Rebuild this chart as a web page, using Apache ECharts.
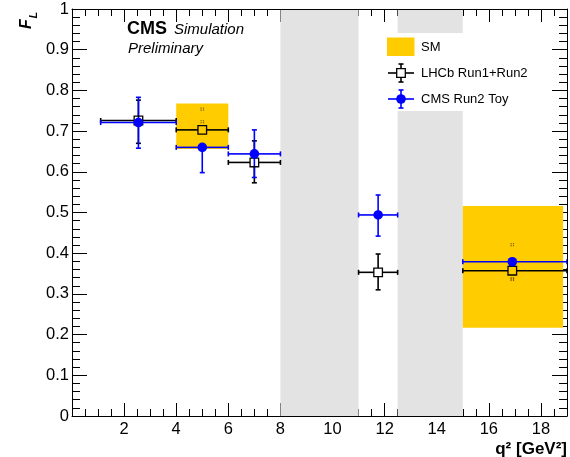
<!DOCTYPE html>
<html>
<head>
<meta charset="utf-8">
<script src="https://cdn.jsdelivr.net/npm/echarts@6/dist/echarts.min.js"></script>
<style>
  html, body { margin: 0; padding: 0; background: #fff; }
  #chart { width: 570px; height: 457px; }
</style>
</head>
<body>
<div id="chart"></div>
<script>
// q^2 bins (GeV^2) and the q^2 position of each point
const binLow  = [1.1, 4, 6, 11, 15];
const binHigh = [4, 6, 8, 12.5, 19];
const binX    = [2.55, 5, 7, 11.75, 16.9];

// LHCb Run1+Run2 measurement of F_L
const lhcbFL      = [0.726, 0.703, 0.623, 0.353, 0.357];
const lhcbErrUp   = [0.050, 0.051, 0.053, 0.045, 0.021];
const lhcbErrDown = [0.056, 0.043, 0.050, 0.043, 0.021];

// CMS Run2 toy
const cmsFL      = [0.721, 0.660, 0.644, 0.494, 0.379];
const cmsErrUp   = [0.062, 0.063, 0.059, 0.049, 0.042];
const cmsErrDown = [0.063, 0.062, 0.058, 0.052, 0.042];

// SM prediction boxes
const smLow  = [4, 15];
const smHigh = [6, 18.85];
const smMin  = [0.656, 0.217];
const smMax  = [0.768, 0.516];

// charmonium veto regions
const vetoLow  = [8, 12.5];
const vetoHigh = [11, 15];

// axis ranges and tick steps
const xRange = [0, 19];
const yRange = [0, 1];
const xMajorStep = 2, xMinorStep = 0.5;
const yMajorStep = 0.1, yMinorSplit = 5;

const FONT = '"Liberation Sans", Arial, Helvetica, sans-serif';
const BLUE = '#0000ff';
const BLACK = '#000000';
const YELLOW = '#ffcc00';
const VETO_GREY = '#e3e3e3';
const CAP = 2.5;
const LW = 1.6;

function seg(x1, y1, x2, y2, color, w, z) {
  const el = { type: 'line', shape: { x1, y1, x2, y2 }, style: { stroke: color, lineWidth: w } };
  if (z != null) el.z = z;
  return el;
}

function renderRegion(fill, yLoDim, yHiDim) {
  return function (params, api) {
    const yLo = yLoDim == null ? yRange[0] : api.value(yLoDim);
    const yHi = yHiDim == null ? yRange[1] : api.value(yHiDim);
    const a = api.coord([api.value(0), yHi]);
    const b = api.coord([api.value(1), yLo]);
    return {
      type: 'rect',
      shape: { x: a[0], y: a[1], width: b[0] - a[0], height: b[1] - a[1] },
      style: { fill: fill }
    };
  };
}

// vertical error bars, interrupted by the marker
function verticalErrors(color, gap) {
  return function (params, api) {
    const x = api.value(0);
    const c = api.coord([x, api.value(1)]);
    const lo = api.coord([x, api.value(2)]);
    const hi = api.coord([x, api.value(3)]);
    const kids = [];
    if (hi[1] < c[1] - gap) kids.push(seg(c[0], hi[1], c[0], c[1] - gap, color, LW));
    if (lo[1] > c[1] + gap) kids.push(seg(c[0], c[1] + gap, c[0], lo[1], color, LW));
    kids.push(seg(c[0] - CAP, hi[1], c[0] + CAP, hi[1], color, LW));
    kids.push(seg(c[0] - CAP, lo[1], c[0] + CAP, lo[1], color, LW));
    return { type: 'group', children: kids };
  };
}

// horizontal bin-width bars plus the marker itself
function horizontalBars(color, gap, marker) {
  return function (params, api) {
    const y = api.value(1);
    const c = api.coord([api.value(0), y]);
    const l = api.coord([api.value(2), y]);
    const r = api.coord([api.value(3), y]);
    return {
      type: 'group',
      children: [
        seg(l[0], c[1], c[0] - gap, c[1], color, LW),
        seg(c[0] + gap, c[1], r[0], c[1], color, LW),
        seg(l[0], c[1] - CAP, l[0], c[1] + CAP, color, LW),
        seg(r[0], c[1] - CAP, r[0], c[1] + CAP, color, LW),
        marker(c)
      ]
    };
  };
}

const squareMarker = c => ({
  type: 'rect',
  shape: { x: c[0] - 4.3, y: c[1] - 4.3, width: 8.6, height: 8.6 },
  style: { fill: 'none', stroke: BLACK, lineWidth: 1.3 }
});
const dotMarker = c => ({
  type: 'circle',
  shape: { cx: c[0], cy: c[1], r: 4.8 },
  style: { fill: BLUE }
});

// error caps that fall inside an SM box still peek through it
function capsInsideSM(vals, up, down) {
  const out = [];
  binX.forEach((x, i) => {
    smLow.forEach((lo, j) => {
      if (x >= lo && x <= smHigh[j]) {
        [vals[i] + up[i], vals[i] - down[i]].forEach(v => {
          if (v > smMin[j] && v < smMax[j]) out.push([x, v]);
        });
      }
    });
  });
  return out;
}
function renderGhostCap(params, api) {
  const c = api.coord([api.value(0), api.value(1)]);
  const dot = (dx, dy) => ({
    type: 'rect',
    shape: { x: c[0] + dx, y: c[1] + dy, width: 1.2, height: 1.2 },
    style: { fill: 'rgba(80,60,0,0.75)' }
  });
  return { type: 'group', children: [dot(-1.8, -1.6), dot(0.6, -1.6), dot(-1.8, 0.4), dot(0.6, 0.4)] };
}

const vErrData = (vals, up, down) => binX.map((x, i) => [x, vals[i], vals[i] - down[i], vals[i] + up[i]]);
const hBarData = vals => binX.map((x, i) => [x, vals[i], binLow[i], binHigh[i]]);

const noLine = { show: false, onZero: false };
const frameLine = { show: true, onZero: false, lineStyle: { color: BLACK, width: 1 } };

const baseX = {
  type: 'value', min: xRange[0], max: xRange[1],
  axisLine: noLine, splitLine: { show: false },
  axisLabel: { show: false }, z: 0
};
const baseY = {
  type: 'value', min: yRange[0], max: yRange[1], interval: yMajorStep,
  axisLine: noLine, splitLine: { show: false },
  axisLabel: { show: false }, z: 0,
  axisTick: { inside: true, length: 15, lineStyle: { color: BLACK, width: 1 } },
  minorTick: { show: true, splitNumber: yMinorSplit, length: 8, lineStyle: { color: BLACK, width: 1 } }
};

const tickMajorX = { inside: true, length: 13, lineStyle: { color: BLACK, width: 1 } };
const tickMinorX = { inside: true, length: 7, lineStyle: { color: BLACK, width: 1 } };

const textStyle = (text, font, extra) => Object.assign({
  text: text, font: font + ' ' + FONT, fill: BLACK,
  verticalAlign: 'middle', textVerticalAlign: 'middle'
}, extra || {});

const option = {
  animation: false,
  backgroundColor: '#ffffff',
  grid: { left: 72, right: 3, top: 9, bottom: 41 },
  xAxis: [
    Object.assign({}, baseX, {
      position: 'bottom', interval: xMajorStep, axisTick: tickMajorX,
      axisLabel: { show: true, fontSize: 16.5, fontFamily: FONT, color: BLACK, margin: 5,
                   showMinLabel: false, showMaxLabel: false }
    }),
    Object.assign({}, baseX, { position: 'bottom', interval: xMinorStep, axisTick: tickMinorX }),
    Object.assign({}, baseX, { position: 'top', interval: xMajorStep, axisTick: tickMajorX }),
    Object.assign({}, baseX, { position: 'top', interval: xMinorStep, axisTick: tickMinorX }),
    Object.assign({}, baseX, { position: 'bottom', interval: xMajorStep, axisTick: { show: false }, axisLine: frameLine, z: 10 }),
    Object.assign({}, baseX, { position: 'top', interval: xMajorStep, axisTick: { show: false }, axisLine: frameLine, z: 10 })
  ],
  yAxis: [
    Object.assign({}, baseY, {
      position: 'left',
      axisLabel: { show: true, fontSize: 16.5, fontFamily: FONT, color: BLACK, margin: 3 }
    }),
    Object.assign({}, baseY, { position: 'right' }),
    Object.assign({}, baseY, { position: 'left', axisTick: { show: false }, minorTick: { show: false }, axisLine: frameLine, z: 10 }),
    Object.assign({}, baseY, { position: 'right', axisTick: { show: false }, minorTick: { show: false }, axisLine: frameLine, z: 10 })
  ],
  series: [
    {
      type: 'custom', name: 'veto', z: 1, silent: true,
      renderItem: renderRegion(VETO_GREY, null, null),
      data: vetoLow.map((lo, i) => [lo, vetoHigh[i]])
    },
    {
      type: 'custom', name: 'LHCb vertical', z: 2, silent: true,
      renderItem: verticalErrors(BLACK, 4.3),
      data: vErrData(lhcbFL, lhcbErrUp, lhcbErrDown)
    },
    {
      type: 'custom', name: 'CMS vertical', z: 2, silent: true,
      renderItem: verticalErrors(BLUE, 0),
      data: vErrData(cmsFL, cmsErrUp, cmsErrDown)
    },
    {
      type: 'custom', name: 'SM', z: 3, silent: true,
      renderItem: renderRegion(YELLOW, 2, 3),
      data: smLow.map((lo, i) => [lo, smHigh[i], smMin[i], smMax[i]])
    },
    {
      type: 'custom', name: 'caps', z: 4, silent: true,
      renderItem: renderGhostCap,
      data: capsInsideSM(lhcbFL, lhcbErrUp, lhcbErrDown).concat(capsInsideSM(cmsFL, cmsErrUp, cmsErrDown))
    },
    {
      type: 'custom', name: 'LHCb Run1+Run2', z: 5, silent: true,
      renderItem: horizontalBars(BLACK, 4.3, squareMarker),
      data: hBarData(lhcbFL)
    },
    {
      type: 'custom', name: 'CMS Run2 Toy', z: 6, silent: true,
      renderItem: horizontalBars(BLUE, 0, dotMarker),
      data: hBarData(cmsFL)
    }
  ],
  graphic: [
    // legend
    { type: 'rect', z: 100, shape: { x: 362, y: 33, width: 185, height: 78 }, style: { fill: '#ffffff' } },
    { type: 'rect', z: 101, shape: { x: 387, y: 37.5, width: 27.5, height: 18.5 }, style: { fill: YELLOW } },
    { type: 'text', z: 101, x: 421, y: 47, style: textStyle('SM', '13px') },
    {
      type: 'group', z: 101, x: 401, y: 73,
      children: [
        seg(-13, 0, -4.3, 0, BLACK, LW, 101), seg(4.3, 0, 13, 0, BLACK, LW, 101),
        seg(0, -9, 0, -4.3, BLACK, LW, 101), seg(0, 4.3, 0, 9, BLACK, LW, 101),
        seg(-CAP, -9, CAP, -9, BLACK, LW, 101), seg(-CAP, 9, CAP, 9, BLACK, LW, 101),
        { type: 'rect', z: 101, shape: { x: -4.3, y: -4.3, width: 8.6, height: 8.6 }, style: { fill: '#fff', stroke: BLACK, lineWidth: 1.3 } }
      ]
    },
    { type: 'text', z: 101, x: 421, y: 73, style: textStyle('LHCb Run1+Run2', '13px') },
    {
      type: 'group', z: 101, x: 401, y: 99,
      children: [
        seg(-13, 0, 13, 0, BLUE, LW, 101), seg(0, -9, 0, 9, BLUE, LW, 101),
        seg(-CAP, -9, CAP, -9, BLUE, LW, 101), seg(-CAP, 9, CAP, 9, BLUE, LW, 101),
        { type: 'circle', z: 102, shape: { cx: 0, cy: 0, r: 4.8 }, style: { fill: BLUE } }
      ]
    },
    { type: 'text', z: 101, x: 421, y: 99, style: textStyle('CMS Run2 Toy', '13px') },
    // CMS label
    { type: 'text', z: 101, x: 127, y: 29.5, style: textStyle('CMS', 'bold 18px') },
    { type: 'text', z: 101, x: 174, y: 30, style: textStyle('Simulation', 'italic 15px') },
    { type: 'text', z: 101, x: 128, y: 48.5, style: textStyle('Preliminary', 'italic 15px') },
    // axis titles
    { type: 'text', z: 101, right: 3, top: 441, style: { text: 'q² [GeV²]', font: 'bold 17px ' + FONT, fill: BLACK } },
    {
      type: 'group', z: 101, x: 0, y: 29, rotation: Math.PI / 2,
      children: [
        { type: 'text', z: 101, x: 0, y: 26.5, style: textStyle('F', 'italic bold 16px') },
        { type: 'text', z: 101, x: 10.5, y: 34, style: textStyle('L', 'italic bold 11px') }
      ]
    }
  ]
};

const chart = echarts.init(document.getElementById('chart'), null, { renderer: 'canvas' });
chart.setOption(option);
</script>
</body>
</html>
